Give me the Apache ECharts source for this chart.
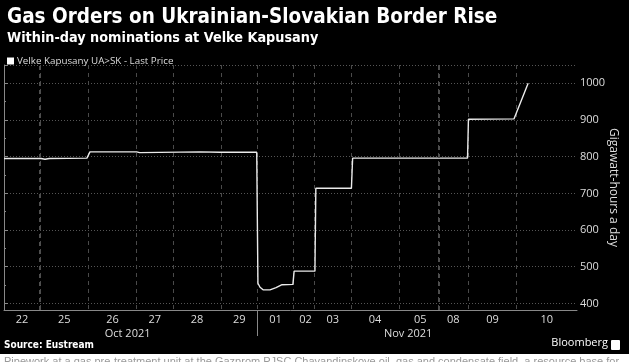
<!DOCTYPE html>
<html><head><meta charset="utf-8">
<script src="https://cdn.jsdelivr.net/npm/echarts@6/dist/echarts.min.js"></script>
<style>html,body{margin:0;padding:0;background:#000}#c{width:629px;height:362px}</style>
</head><body><div id="c"></div>
<script>
// Trading days shown on the axis and how many time slots each day occupies
const dayLabels = ['22','25','26','27','28','29','01','02','03','04','05','08','09','10'];
const daySlots  = [12,16,16,12,16,12,12,7,12,16,13,10,16,20];
const weekStartDays = ['25','08'];
const monthLabels = ['Oct 2021','Nov 2021'];
const monthFirstDay = ['22','01'];
// Series: time slot and within-day nominations (GWh/d)
const pointSlot  = [0, 12.3, 13.6, 15, 27.5, 28.5, 44, 45, 65, 71.6, 83.8, 84.2, 84.9, 85.9, 88.2, 90.2, 92.2, 95.8, 96.2, 103.1, 103.4, 115.2, 115.6, 153.7, 154, 169.1, 173.8];
const pointValue = [795, 795, 793, 795, 796, 813, 813, 811, 813, 812, 812, 455, 444, 437, 437, 443, 451, 452, 488, 488, 714, 714, 796, 796, 902, 903, 1000];
const yTicks = [400,500,600,700,800,900,1000];

const total = daySlots.reduce((a,b)=>a+b,0);
const dayStart = []; let acc = 0;
daySlots.forEach(s=>{dayStart.push(acc); acc+=s;});
const cats = [];
for (let i=0;i<=total;i++) cats.push('');
const dayCats = cats.slice();
dayLabels.forEach((d,i)=>{ dayCats[Math.round(dayStart[i]+daySlots[i]/2)] = d; });
const boundaries = new Set(dayStart.filter(v=>v>0));
const monthCats = cats.slice();
const monthBoundary = dayStart[dayLabels.indexOf(monthFirstDay[1])];
monthCats[Math.round(monthBoundary/2)-1] = monthLabels[0];
monthCats[Math.round((monthBoundary+total)/2)-3] = monthLabels[1];
const weekLines = weekStartDays.map(d=>({xAxis: dayStart[dayLabels.indexOf(d)]}));
const seriesData = pointSlot.map((s,i)=>[s,pointValue[i]]);

const chart = echarts.init(document.getElementById('c'));
const lblFont = "'Open Sans', sans-serif";
chart.setOption({
  backgroundColor:'#000',
  animation:false,
  title:{
    text:'Gas Orders on Ukrainian-Slovakian Border Rise',
    subtext:'Within-day nominations at Velke Kapusany',
    left:2, top:2, itemGap:3,
    textStyle:{color:'#fff',fontSize:20.5,fontWeight:'bold',fontFamily:"'DejaVu Sans Condensed', 'DejaVu Sans'"},
    subtextStyle:{color:'#fff',fontSize:14.3,fontWeight:'bold',fontFamily:"'DejaVu Sans Condensed', 'DejaVu Sans'"}
  },
  legend:{
    left:2, top:51, icon:'rect', itemWidth:7, itemHeight:7, itemGap:4,
    textStyle:{color:'#ddd',fontSize:9.8,fontFamily:lblFont, padding:[0,0,0,-2]},
    data:[{name:'Velke Kapusany UA>SK - Last Price', itemStyle:{color:'#fff'}}]
  },
  grid:{left:4,right:52,top:65,bottom:52, outerBoundsMode:'none', containLabel:false},
  xAxis:[
    {type:'category', data:dayCats, boundaryGap:false,
     axisLine:{lineStyle:{color:'#888'}},
     axisTick:{show:true, interval:(i)=>i===monthBoundary, length:26, lineStyle:{color:'#888'}},
     axisLabel:{interval:0, color:'#ddd', fontSize:11, fontFamily:lblFont, margin:4},
     splitLine:{show:true, interval:(i)=>boundaries.has(i), lineStyle:{type:[4,4],color:'#4a4a4a'}}},
    {type:'category', data:monthCats, boundaryGap:false, position:'bottom', offset:14,
     axisLine:{show:false}, axisTick:{show:false},
     axisLabel:{interval:0, color:'#ddd', fontSize:11, fontFamily:lblFont, margin:4},
     splitLine:{show:false}},
    {type:'value', min:0, max:total, show:false}
  ],
  yAxis:{
    type:'value', position:'right', min:382, max:1050,
    axisLine:{show:true, lineStyle:{color:'#888'}},
    axisTick:{show:true, length:4, lineStyle:{color:'#888'}},
    minorTick:{show:true, splitNumber:2, length:2, lineStyle:{color:'#888'}},
    axisLabel:{color:'#ddd', fontSize:11, fontFamily:lblFont, margin:3,
      showMinLabel:false, showMaxLabel:false,
      formatter:(v)=> yTicks.includes(v) ? String(v) : ''},
    splitLine:{show:true, lineStyle:{type:[1,2], color:'#555'}},
    name:'Gigawatt-hours a day', nameLocation:'middle', nameRotate:-90, nameGap:30, nameMoveOverlap:false,
    nameTextStyle:{color:'#ddd', fontSize:12, fontFamily:lblFont}
  },
  series:[{
    name:'Velke Kapusany UA>SK - Last Price', type:'line', xAxisIndex:2,
    data:seriesData, showSymbol:false, symbol:'none',
    lineStyle:{color:'#eaeaea', width:1.4},
    markLine:{silent:true, symbol:'none', label:{show:false},
      lineStyle:{type:[4,4], color:'#4e4e4e', width:2}, data:weekLines}
  }],
  graphic:[
    {type:'text', left:4, top:340, style:{text:'Source: Eustream', fill:'#fff', font:"bold 10px 'DejaVu Sans Condensed', 'DejaVu Sans'"}},
    {type:'text', right:21, top:337, style:{text:'Bloomberg', fill:'#fff', font:"11px 'Open Sans', sans-serif"}},
    {type:'rect', right:9, top:340, shape:{width:9,height:10,r:1}, style:{fill:'#fff'}},
    {type:'rect', left:0, top:354, shape:{width:629,height:8}, style:{fill:'#fff'}},
    {type:'text', left:4, top:356, style:{text:'Pipework at a gas pre-treatment unit at the Gazprom PJSC Chayandinskoye oil, gas and condensate field, a resource base for', fill:'#999', font:"11px 'Liberation Sans', sans-serif"}}
  ]
});
</script></body></html>
